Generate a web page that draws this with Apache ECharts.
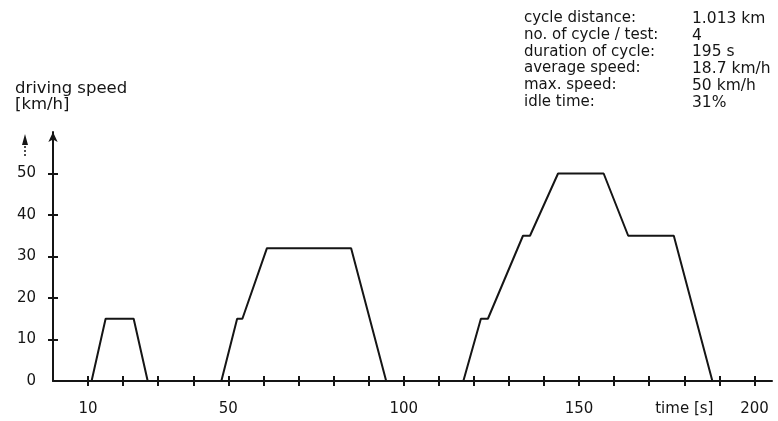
<!DOCTYPE html>
<html>
<head>
<meta charset="utf-8">
<script src="https://cdn.jsdelivr.net/npm/echarts@6/dist/echarts.min.js"></script>
<style>
  html, body { margin: 0; padding: 0; background: #fff; }
  #chart { width: 778px; height: 421px; }
</style>
</head>
<body>
<div id="chart"></div>
<script>
// driving cycle
const timeS = [0, 11, 15, 23, 27, 48, 52.5, 54, 61, 85, 95, 117, 122, 124, 134, 136, 144, 157, 164, 177, 188, 195];
const speedKmh = [0, 0, 15, 15, 0, 0, 15, 15, 32, 32, 0, 0, 15, 15, 35, 35, 50, 50, 35, 35, 0, 0];

const xTicks = [10, 20, 30, 40, 50, 60, 70, 80, 90, 100, 110, 120, 130, 140, 150, 160, 170, 180, 190, 200];
const xLabels = [10, 50, 100, 150, 180, 200];
const yTicks = [10, 20, 30, 40, 50];
const yLabels = [0, 10, 20, 30, 40, 50];

const infoLabels = ['cycle distance:', 'no. of cycle / test:', 'duration of cycle:', 'average speed:', 'max. speed:', 'idle time:'];
const infoValues = ['1.013 km', '4', '195 s', '18.7 km/h', '50 km/h', '31%'];

const ink = '#151515';
const font = 'DejaVu Sans';

const chart = echarts.init(document.getElementById('chart'));

// info block on the right
const infoText = [];
infoLabels.forEach((t, i) => {
  infoText.push({ type: 'text', left: 524, top: 11 + i * 16.7, style: { text: t, fill: ink, font: '15px "' + font + '"' } });
  infoText.push({ type: 'text', left: 692, top: 11 + i * 16.7, style: { text: infoValues[i], fill: ink, font: '15.5px "' + font + '"' } });
});

const xBase = { type: 'value', min: 0, max: 205, gridIndex: 0, splitLine: { show: false } };
const yBase = { type: 'value', min: 0, max: 60, gridIndex: 0, splitLine: { show: false } };

const option = {
  animation: false,
  textStyle: { fontFamily: font, color: ink },
  grid: { left: 53, right: 6, top: 132, bottom: 40 },
  xAxis: [
    Object.assign({}, xBase, {
      axisLine: { lineStyle: { color: ink, width: 2 } },
      axisTick: { inside: false, length: 5, customValues: xTicks, lineStyle: { color: ink, width: 2 } },
      axisLabel: {
        customValues: xLabels, margin: 21, color: ink, fontSize: 15,
        formatter: v => (v === 180 ? 'time [s]' : String(v))
      }
    }),
    Object.assign({}, xBase, {
      position: 'bottom',
      axisLine: { show: false },
      axisTick: { inside: true, length: 5, customValues: xTicks, lineStyle: { color: ink, width: 2 } },
      axisLabel: { show: false }
    })
  ],
  yAxis: [
    Object.assign({}, yBase, {
      axisLine: { show: true, symbol: ['none', 'arrow'], symbolSize: [7, 10], lineStyle: { color: ink, width: 2 } },
      axisTick: { inside: false, length: 5, customValues: yTicks, lineStyle: { color: ink, width: 2 } },
      axisLabel: { customValues: yLabels, margin: 17, color: ink, fontSize: 15 }
    }),
    Object.assign({}, yBase, {
      position: 'left',
      axisLine: { show: false },
      axisTick: { inside: true, length: 5, customValues: yTicks, lineStyle: { color: ink, width: 2 } },
      axisLabel: { show: false }
    })
  ],
  graphic: [
    { type: 'text', left: 15, top: 80, style: { text: 'driving speed\n[km/h]', fill: ink, font: '16.5px "' + font + '"', lineHeight: 16 } },
    // little arrow beside the axis
    { type: 'line', shape: { x1: 25, y1: 156, x2: 25, y2: 142 }, style: { stroke: ink, lineWidth: 1.5, lineDash: [2, 2] } },
    { type: 'polygon', shape: { points: [[22, 145], [28, 145], [25, 134]] }, style: { fill: ink } }
  ].concat(infoText),
  series: [{
    type: 'line',
    xAxisIndex: 0,
    yAxisIndex: 0,
    symbol: 'none',
    data: timeS.map((t, i) => [t, speedKmh[i]]),
    lineStyle: { color: ink, width: 2 }
  }]
};

chart.setOption(option);
</script>
</body>
</html>
